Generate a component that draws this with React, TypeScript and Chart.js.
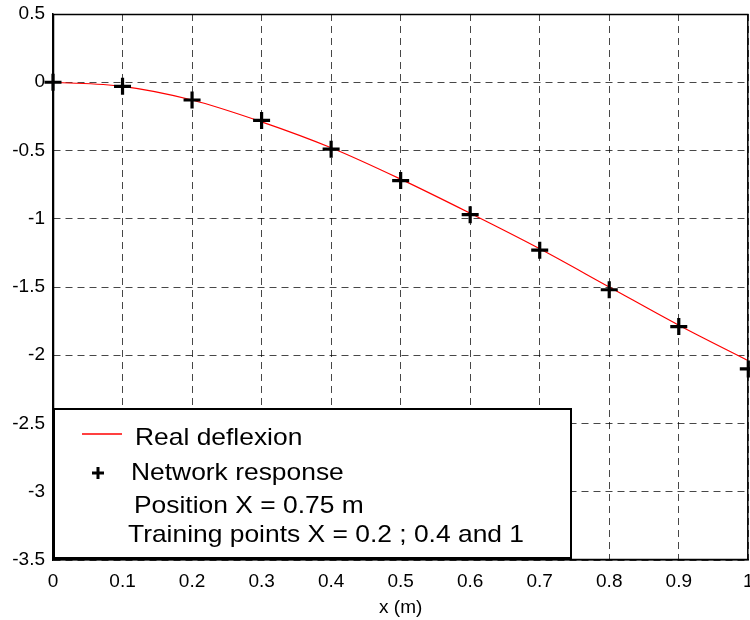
import React, { useEffect, useRef } from "react";
import { Chart, registerables } from "chart.js";

Chart.register(...registerables);

const positions = [0, 0.1, 0.2, 0.3, 0.4, 0.5, 0.6, 0.7, 0.8, 0.9, 1.0];
const realDeflexion = [0, -0.03, -0.13, -0.29, -0.48, -0.71, -0.96, -1.22, -1.5, -1.78, -2.04];
const networkResponse = [0, -0.03, -0.13, -0.28, -0.49, -0.72, -0.97, -1.23, -1.52, -1.79, -2.1];
const xTickLabels = ["0", "0.1", "0.2", "0.3", "0.4", "0.5", "0.6", "0.7", "0.8", "0.9", "1"];
const yTickLabels = ["0.5", "0", "-0.5", "-1", "-1.5", "-2", "-2.5", "-3", "-3.5"];
const legendLines = [
  "Real deflexion",
  "Network response",
  "Position X = 0.75 m",
  "Training points X = 0.2 ; 0.4 and 1",
];

const FONT = "'Liberation Sans', Arial, Helvetica, sans-serif";

const framePlugin = {
  id: "frameAndLegend",
  afterDraw(chart: any) {
    const { ctx, chartArea } = chart;
    ctx.save();
    // plot frame
    ctx.strokeStyle = "#000";
    ctx.lineWidth = 1.5;
    ctx.strokeRect(chartArea.left + 0.5, chartArea.top + 0.5, chartArea.right - chartArea.left - 1, chartArea.bottom - chartArea.top - 1);

    // legend box
    const bx = chartArea.left + 1;
    const by = 409;
    const bw = 571 - bx;
    const bh = 558 - by;
    ctx.fillStyle = "#fff";
    ctx.fillRect(bx, by, bw, bh);
    ctx.lineWidth = 2;
    ctx.strokeStyle = "#000";
    ctx.strokeRect(bx, by, bw, bh);

    // red line sample
    ctx.strokeStyle = "#ff0000";
    ctx.lineWidth = 1.5;
    ctx.beginPath();
    ctx.moveTo(82, 434);
    ctx.lineTo(122, 434);
    ctx.stroke();

    // plus sample
    ctx.strokeStyle = "#000";
    ctx.lineWidth = 3;
    ctx.beginPath();
    ctx.moveTo(92, 473);
    ctx.lineTo(104, 473);
    ctx.moveTo(98, 467);
    ctx.lineTo(98, 479);
    ctx.stroke();

    ctx.fillStyle = "#000";
    ctx.font = `24px ${FONT}`;
    ctx.textBaseline = "alphabetic";
    ctx.textAlign = "left";
    const items = [
      { x: 135, y: 445 },
      { x: 131, y: 480 },
      { x: 134, y: 513 },
      { x: 128, y: 542 },
    ];
    const sx = 1.1;
    items.forEach((it, i) => {
      ctx.save();
      ctx.translate(it.x, it.y);
      ctx.scale(sx, 1);
      ctx.fillText(legendLines[i], 0, 0);
      ctx.restore();
    });
    ctx.restore();
  },
};

export default function App() {
  const ref = useRef<HTMLCanvasElement>(null);
  useEffect(() => {
    if (!ref.current) return;
    const chart = new Chart(ref.current, {
      type: "line",
      data: {
        datasets: [
          {
            label: "Network response",
            data: positions.map((x, i) => ({ x, y: networkResponse[i] })),
            showLine: false,
            pointStyle: "cross",
            pointRadius: 8.5,
            pointBorderWidth: 3.2,
            borderColor: "#000",
            backgroundColor: "#000",
            clip: false,
          },
          {
            label: "Real deflexion",
            data: positions.map((x, i) => ({ x, y: realDeflexion[i] })),
            borderColor: "#ff0000",
            borderWidth: 1.2,
            pointRadius: 0,
            cubicInterpolationMode: "monotone",
            fill: false,
          },
        ],
      },
      options: {
        responsive: false,
        animation: false,
        events: [],
        layout: { padding: { top: 14, right: 1, left: 0, bottom: 0 } },
        plugins: { legend: { display: false }, tooltip: { enabled: false } },
        scales: {
          x: {
            type: "linear",
            min: 0,
            max: 1,
            ticks: {
              stepSize: 0.1,
              color: "#000",
              padding: 10,
              maxRotation: 0,
              autoSkip: false,
              font: { family: FONT, size: 19 },
              callback: (v: any) => xTickLabels[Math.round(Number(v) * 10)] ?? "",
            },
            grid: { color: "rgba(0,0,0,0.72)", lineWidth: 1, drawTicks: false },
            border: { display: true, color: "#000", width: 1.5, dash: [7, 5] },
            title: {
              display: true,
              text: "x (m)",
              color: "#000",
              font: { family: FONT, size: 19 },
              padding: { top: 0, bottom: 1 },
            },
            afterFit: (s: any) => {
              s.height = 60;
              s.paddingLeft = 0;
              s.paddingRight = 0;
            },
          },
          y: {
            type: "linear",
            min: -3.5,
            max: 0.5,
            ticks: {
              stepSize: 0.5,
              color: "#000",
              padding: 8,
              autoSkip: false,
              font: { family: FONT, size: 19 },
              callback: (v: any) => yTickLabels[Math.round((0.5 - Number(v)) * 2)] ?? "",
            },
            grid: { color: "rgba(0,0,0,0.72)", lineWidth: 1, drawTicks: false },
            border: { display: true, color: "#000", width: 1.5, dash: [7, 5] },
            afterFit: (s: any) => {
              s.width = 53;
              s.paddingTop = 0;
              s.paddingBottom = 0;
            },
          },
        },
      },
      plugins: [framePlugin],
    } as any);
    return () => chart.destroy();
  }, []);
  return (
    <div style={{ position: "absolute", left: 0, top: 0, width: 750, height: 620, overflow: "hidden", background: "#fff" }}>
      <canvas ref={ref} width={760} height={620} style={{ display: "block" }} />
    </div>
  );
}
